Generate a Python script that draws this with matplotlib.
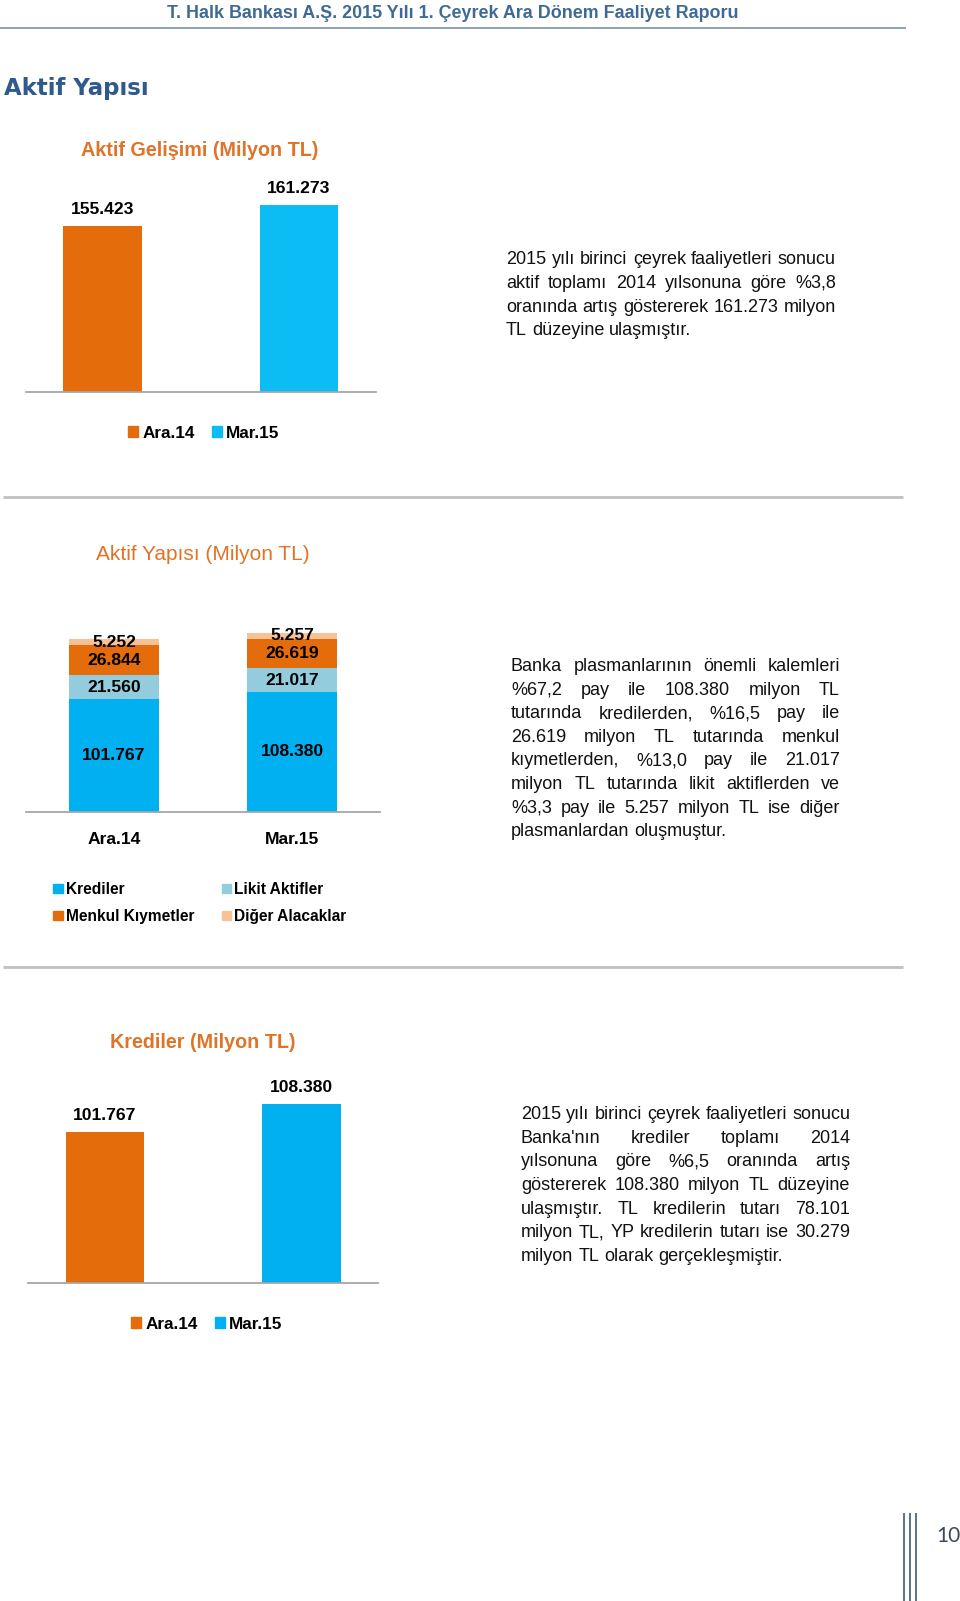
import matplotlib
matplotlib.use('Agg')
import matplotlib.pyplot as plt
from matplotlib.lines import Line2D
from matplotlib.patches import Patch

W, H = 960, 1601
DPI = 100

# ---------------- data ----------------
categories = ['Ara.14', 'Mar.15']
aktif_toplam = [155423, 161273]
krediler = [101767, 108380]
likit_aktifler = [21560, 21017]
menkul_kiymetler = [26844, 26619]
diger_alacaklar = [5252, 5257]
yapi_series = ['Krediler', 'Likit Aktifler', 'Menkul Kıymetler', 'Diğer Alacaklar']

header_text = 'T. Halk Bankası A.Ş. 2015 Yılı 1. Çeyrek Ara Dönem Faaliyet Raporu'
section_title = 'Aktif Yapısı'
title1 = 'Aktif Gelişimi (Milyon TL)'
title2 = 'Aktif Yapısı (Milyon TL)'
title3 = 'Krediler (Milyon TL)'
page_no = '10'

para1 = ['2015 yılı birinci çeyrek faaliyetleri sonucu',
         'aktif toplamı 2014 yılsonuna göre %3,8',
         'oranında artış göstererek 161.273 milyon',
         'TL düzeyine ulaşmıştır.']
para2 = ['Banka plasmanlarının önemli kalemleri',
         '%67,2 pay ile 108.380 milyon TL',
         'tutarında kredilerden, %16,5 pay ile',
         '26.619 milyon TL tutarında menkul',
         'kıymetlerden, %13,0 pay ile 21.017',
         'milyon TL tutarında likit aktiflerden ve',
         '%3,3 pay ile 5.257 milyon TL ise diğer',
         'plasmanlardan oluşmuştur.']
para3 = ['2015 yılı birinci çeyrek faaliyetleri sonucu',
         "Banka'nın krediler toplamı 2014",
         'yılsonuna göre %6,5 oranında artış',
         'göstererek 108.380 milyon TL düzeyine',
         'ulaşmıştır. TL kredilerin tutarı 78.101',
         'milyon TL, YP kredilerin tutarı ise 30.279',
         'milyon TL olarak gerçekleşmiştir.']

# ---------------- style ----------------
ORANGE = '#E46C0A'
BLUE1 = '#0BBCF5'
BLUE = '#00B0F0'
LIGHTBLUE = '#93CDDD'
PEACH = '#F9C196'
TITLE_OR = '#DF7428'
HEAD_BLUE = '#3F6A96'
SEC_BLUE = '#2F5B8C'

plt.rcParams['font.family'] = ['Liberation Sans', 'DejaVu Sans']


def tr(v):
    return f"{v:,}".replace(',', '.')


fig = plt.figure(figsize=(W / DPI, H / DPI), dpi=DPI)
fig.patch.set_facecolor('white')


def fx(x):
    return x / W


def fy(y):
    return 1 - y / H


def add_ax(x0, y0, x1, y1):
    return fig.add_axes([fx(x0), fy(y1), (x1 - x0) / W, (y1 - y0) / H])


def hline(x0, x1, y, color, lw):
    fig.add_artist(Line2D([fx(x0), fx(x1)], [fy(y), fy(y)], color=color, lw=lw,
                          transform=fig.transFigure, solid_capstyle='butt'))


def vline(x, y0, y1, color, lw):
    fig.add_artist(Line2D([fx(x), fx(x)], [fy(y0), fy(y1)], color=color, lw=lw,
                          transform=fig.transFigure, solid_capstyle='butt'))


def style(ax):
    for s in ['top', 'right', 'left']:
        ax.spines[s].set_visible(False)
    ax.spines['bottom'].set_color('#A6A6A6')
    ax.spines['bottom'].set_linewidth(1.3)
    ax.set_yticks([])
    ax.tick_params(axis='x', length=0)
    ax.patch.set_alpha(0)


# ---------------- header ----------------
fig.text(fx(453), fy(13), header_text, ha='center', va='center', fontsize=12.9,
         fontweight='bold', color=HEAD_BLUE)
hline(0, 906, 28, '#8FA2B6', 1.4)
fig.text(fx(4), fy(88), section_title, ha='left', va='center', fontsize=16.5,
         fontweight='bold', family=['DejaVu Sans'], color=SEC_BLUE)

# ---------------- chart 1 ----------------
fig.text(fx(200), fy(151), title1, ha='center', va='center', fontsize=14.2,
         fontweight='bold', color=TITLE_OR)
ax1 = add_ax(26, 170, 376, 392)
style(ax1)
b1 = ax1.bar(range(len(categories)), aktif_toplam, width=0.40, color=[ORANGE, BLUE1])
ax1.set_xlim(-0.389, 1.392)
m1 = 109270
ax1.set_ylim(m1, m1 + 222 / 0.00359)
ax1.set_xticks([])
ax1.bar_label(b1, labels=[tr(v) for v in aktif_toplam], padding=6.5, fontsize=12.6,
              fontweight='bold')
fig.legend(handles=[Patch(color=ORANGE, label=categories[0]),
                    Patch(color=BLUE1, label=categories[1])],
           loc='center', bbox_to_anchor=(fx(204), fy(433)), ncol=2, frameon=False,
           prop={'weight': 'bold', 'size': 12.3}, handlelength=0.55, handleheight=0.55,
           handletextpad=0.25, columnspacing=1.05, borderpad=0, borderaxespad=0)

hline(3, 903, 497, '#C0C0C0', 2.0)

# ---------------- chart 2 ----------------
fig.text(fx(203), fy(555), title2, ha='center', va='center', fontsize=15,
         color=TITLE_OR)
ax2 = add_ax(26, 590, 380, 812)
style(ax2)
x = range(len(categories))
bottom = [0, 0]
for name, vals, col in zip(yapi_series,
                           [krediler, likit_aktifler, menkul_kiymetler, diger_alacaklar],
                           [BLUE, LIGHTBLUE, ORANGE, PEACH]):
    bb = ax2.bar(x, vals, width=0.506, bottom=bottom, color=col, label=name)
    ax2.bar_label(bb, labels=[tr(v) for v in vals], label_type='center', fontsize=12.6,
                  fontweight='bold')
    bottom = [a + v for a, v in zip(bottom, vals)]
ax2.set_xlim(-0.494, 1.494)
ax2.set_ylim(0, 200000)
ax2.set_xticks(list(x))
ax2.set_xticklabels(categories, fontsize=12.6, fontweight='bold')
ax2.tick_params(axis='x', pad=14.5)
leg_handles = [Patch(color=BLUE, label=yapi_series[0]),
               Patch(color=ORANGE, label=yapi_series[2]),
               Patch(color=LIGHTBLUE, label=yapi_series[1]),
               Patch(color=PEACH, label=yapi_series[3])]
fig.legend(handles=leg_handles, loc='center', bbox_to_anchor=(fx(200), fy(903)), ncol=2,
           frameon=False, prop={'weight': 'bold', 'size': 11.2}, handlelength=0.58,
           handleheight=0.5, handletextpad=0.2, columnspacing=1.8, labelspacing=0.75,
           borderpad=0, borderaxespad=0)

hline(3, 903, 967, '#C0C0C0', 2.0)

# ---------------- chart 3 ----------------
fig.text(fx(203), fy(1042), title3, ha='center', va='center', fontsize=14.2,
         fontweight='bold', color=TITLE_OR)
ax3 = add_ax(28, 1060, 378, 1283)
style(ax3)
b3 = ax3.bar(range(len(categories)), krediler, width=0.40, color=[ORANGE, BLUE])
ax3.set_xlim(-0.392, 1.389)
m3 = 66100
ax3.set_ylim(m3, m3 + 223 / 0.004234)
ax3.set_xticks([])
ax3.bar_label(b3, labels=[tr(v) for v in krediler], padding=6.5, fontsize=12.6,
              fontweight='bold')
fig.legend(handles=[Patch(color=ORANGE, label=categories[0]),
                    Patch(color=BLUE, label=categories[1])],
           loc='center', bbox_to_anchor=(fx(207), fy(1324)), ncol=2, frameon=False,
           prop={'weight': 'bold', 'size': 12.3}, handlelength=0.55, handleheight=0.55,
           handletextpad=0.25, columnspacing=1.05, borderpad=0, borderaxespad=0)

# ---------------- paragraphs (justified) ----------------
renderer = fig.canvas.get_renderer()
PSIZE = 13


def paragraph(lines, x0, x1, base0, step, size=PSIZE):
    space = 0.278 * size * DPI / 72
    for i, line in enumerate(lines):
        yb = base0 + i * step
        words = line.split(' ')
        ts = [fig.text(0, fy(yb), w, fontsize=size, va='baseline', ha='left',
                       color='#111111') for w in words]
        widths = [t.get_window_extent(renderer).width for t in ts]
        if i == len(lines) - 1 or len(words) == 1:
            gap = space
        else:
            gap = (x1 - x0 - sum(widths)) / (len(words) - 1)
        xx = x0
        for t, wd in zip(ts, widths):
            t.set_x(fx(xx))
            xx += wd + gap


paragraph(para1, 506, 836, 264.5, 23.5)
paragraph(para2, 511, 840, 671, 23.6)
paragraph(para3, 521, 850, 1119, 23.67)

# ---------------- page footer ----------------
for xv in [904, 910, 916]:
    vline(xv, 1513, 1601, '#2D4B6E', 1.1)
fig.text(fx(948), fy(1536), page_no, ha='center', va='center', fontsize=15,
         family=['Lato', 'Liberation Sans'], color='#3A4A5E')

fig.savefig('out.png', dpi=DPI, facecolor='white')
